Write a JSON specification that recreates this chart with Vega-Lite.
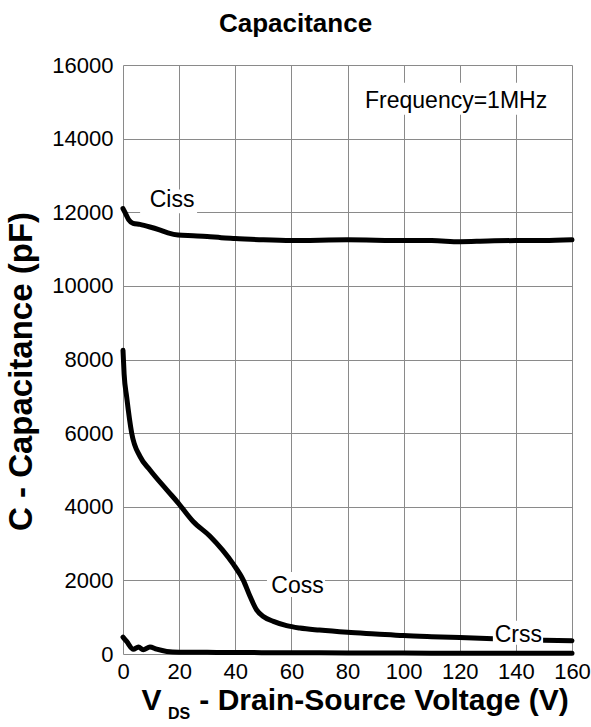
{
  "$schema": "https://vega.github.io/schema/vega-lite/v6.json",
  "width": 449,
  "height": 589,
  "autosize": "none",
  "padding": {"left": 123, "top": 65, "right": 19, "bottom": 73},
  "background": "white",
  "title": {"text": "Capacitance", "fontSize": 26, "fontWeight": "bold", "font": "Liberation Sans", "color": "black", "frame": "group", "offset": 17, "dx": -52},
  "config": {
    "view": {"stroke": null},
    "font": "Liberation Sans",
    "axis": {"domain": false, "ticks": false, "gridColor": "#8a8a8a", "gridWidth": 1, "gridOpacity": 1, "labelColor": "black", "labelFont": "Liberation Sans", "labelFontSize": 22, "titleFont": "Liberation Sans", "titleColor": "black"}
  },
  "datasets": {
    "curves": [
      {"series": "Ciss", "v": 0, "c": 12100}, {"series": "Ciss", "v": 1, "c": 11950}, {"series": "Ciss", "v": 2, "c": 11800}, {"series": "Ciss", "v": 3.6, "c": 11700}, {"series": "Ciss", "v": 6, "c": 11670}, {"series": "Ciss", "v": 9.6, "c": 11600}, {"series": "Ciss", "v": 13, "c": 11520}, {"series": "Ciss", "v": 16, "c": 11440}, {"series": "Ciss", "v": 19.6, "c": 11380}, {"series": "Ciss", "v": 25, "c": 11360}, {"series": "Ciss", "v": 30, "c": 11340}, {"series": "Ciss", "v": 35, "c": 11310}, {"series": "Ciss", "v": 40, "c": 11290}, {"series": "Ciss", "v": 50, "c": 11250}, {"series": "Ciss", "v": 60, "c": 11230}, {"series": "Ciss", "v": 70, "c": 11240}, {"series": "Ciss", "v": 80, "c": 11250}, {"series": "Ciss", "v": 90, "c": 11240}, {"series": "Ciss", "v": 100, "c": 11230}, {"series": "Ciss", "v": 110, "c": 11230}, {"series": "Ciss", "v": 120, "c": 11200}, {"series": "Ciss", "v": 130, "c": 11220}, {"series": "Ciss", "v": 140, "c": 11230}, {"series": "Ciss", "v": 150, "c": 11230}, {"series": "Ciss", "v": 160, "c": 11250},
      {"series": "Coss", "v": 0, "c": 8250}, {"series": "Coss", "v": 0.4, "c": 7600}, {"series": "Coss", "v": 1.3, "c": 6990}, {"series": "Coss", "v": 3.1, "c": 6000}, {"series": "Coss", "v": 6.1, "c": 5360}, {"series": "Coss", "v": 9.6, "c": 5000}, {"series": "Coss", "v": 15.6, "c": 4460}, {"series": "Coss", "v": 19.7, "c": 4100}, {"series": "Coss", "v": 25, "c": 3600}, {"series": "Coss", "v": 31, "c": 3200}, {"series": "Coss", "v": 35.5, "c": 2820}, {"series": "Coss", "v": 39.3, "c": 2440}, {"series": "Coss", "v": 42.9, "c": 2000}, {"series": "Coss", "v": 45.3, "c": 1560}, {"series": "Coss", "v": 47.6, "c": 1200}, {"series": "Coss", "v": 50, "c": 1020}, {"series": "Coss", "v": 53.6, "c": 885}, {"series": "Coss", "v": 58.3, "c": 770}, {"series": "Coss", "v": 63, "c": 705}, {"series": "Coss", "v": 70, "c": 650}, {"series": "Coss", "v": 80, "c": 590}, {"series": "Coss", "v": 90, "c": 545}, {"series": "Coss", "v": 100, "c": 500}, {"series": "Coss", "v": 110, "c": 470}, {"series": "Coss", "v": 120, "c": 445}, {"series": "Coss", "v": 132, "c": 415}, {"series": "Coss", "v": 140, "c": 395}, {"series": "Coss", "v": 150, "c": 375}, {"series": "Coss", "v": 160, "c": 360},
      {"series": "Crss", "v": 0, "c": 460}, {"series": "Crss", "v": 1.3, "c": 340}, {"series": "Crss", "v": 3.7, "c": 130}, {"series": "Crss", "v": 5.5, "c": 190}, {"series": "Crss", "v": 7.2, "c": 115}, {"series": "Crss", "v": 9.6, "c": 190}, {"series": "Crss", "v": 12, "c": 130}, {"series": "Crss", "v": 15.6, "c": 70}, {"series": "Crss", "v": 20, "c": 50}, {"series": "Crss", "v": 30, "c": 45}, {"series": "Crss", "v": 40, "c": 40}, {"series": "Crss", "v": 60, "c": 35}, {"series": "Crss", "v": 80, "c": 30}, {"series": "Crss", "v": 100, "c": 25}, {"series": "Crss", "v": 120, "c": 22}, {"series": "Crss", "v": 140, "c": 20}, {"series": "Crss", "v": 160, "c": 20}
    ],
    "boxes": [
      {"x1": 6.1, "x2": 26.4, "y1": 12620, "y2": 11970},
      {"x1": 51.3, "x2": 72, "y1": 2227, "y2": 1548},
      {"x1": 131.8, "x2": 149.7, "y1": 900, "y2": 250},
      {"x1": 80.9, "x2": 159.3, "y1": 15520, "y2": 14650}
    ],
    "labels": [
      {"v": 17.5, "c": 12143, "label": "Ciss"},
      {"v": 62.2, "c": 1657, "label": "Coss"},
      {"v": 140.9, "c": 326, "label": "Crss"},
      {"v": 118.7, "c": 14832, "label": "Frequency=1MHz"}
    ],
    "xtitle": [
      {"v": 6.6, "c": -1520, "label": "V"},
      {"v": 27.2, "c": -1520, "label": "- Drain-Source Voltage (V)"}
    ],
    "xsub": [
      {"v": 16.0, "c": -1766, "label": "DS"}
    ]
  },
  "layer": [
    {
      "data": {"name": "curves"},
      "mark": {"type": "line", "interpolate": "monotone", "strokeWidth": 5, "color": "black", "strokeCap": "round", "strokeJoin": "round"},
      "encoding": {
        "x": {"field": "v", "type": "quantitative", "scale": {"domain": [0, 160], "nice": false, "zero": false},
          "axis": {"title": null, "values": [0,10,20,30,40,50,60,70,80,90,100,110,120,130,140,150,160], "labelExpr": "datum.value % 20 === 0 ? datum.label : ''", "labelPadding": 7, "labelFlush": false}},
        "y": {"field": "c", "type": "quantitative", "scale": {"domain": [0, 16000], "nice": false},
          "axis": {"title": "C - Capacitance (pF)", "titleFontSize": 33, "titleFontWeight": "bold", "titlePadding": 13, "titleY": 306, "format": "d", "values": [0,1000,2000,3000,4000,5000,6000,7000,8000,9000,10000,11000,12000,13000,14000,15000,16000], "labelExpr": "datum.value % 2000 === 0 ? datum.label : ''", "labelPadding": 10}},
        "detail": {"field": "series", "type": "nominal"}
      }
    },
    {
      "data": {"name": "boxes"},
      "mark": {"type": "rect", "color": "white"},
      "encoding": {
        "x": {"field": "x1", "type": "quantitative"},
        "x2": {"field": "x2"},
        "y": {"field": "y1", "type": "quantitative"},
        "y2": {"field": "y2"}
      }
    },
    {
      "data": {"name": "labels"},
      "mark": {"type": "text", "align": "center", "baseline": "alphabetic", "fontSize": 23, "color": "black", "font": "Liberation Sans"},
      "encoding": {
        "x": {"field": "v", "type": "quantitative"},
        "y": {"field": "c", "type": "quantitative"},
        "text": {"field": "label"}
      }
    },
    {
      "data": {"name": "xtitle"},
      "mark": {"type": "text", "align": "left", "baseline": "alphabetic", "fontSize": 30, "fontWeight": "bold", "color": "black", "font": "Liberation Sans"},
      "encoding": {
        "x": {"field": "v", "type": "quantitative"},
        "y": {"field": "c", "type": "quantitative"},
        "text": {"field": "label"}
      }
    },
    {
      "data": {"name": "xsub"},
      "mark": {"type": "text", "align": "left", "baseline": "alphabetic", "fontSize": 16, "fontWeight": "bold", "color": "black", "font": "Liberation Sans"},
      "encoding": {
        "x": {"field": "v", "type": "quantitative"},
        "y": {"field": "c", "type": "quantitative"},
        "text": {"field": "label"}
      }
    }
  ]
}
